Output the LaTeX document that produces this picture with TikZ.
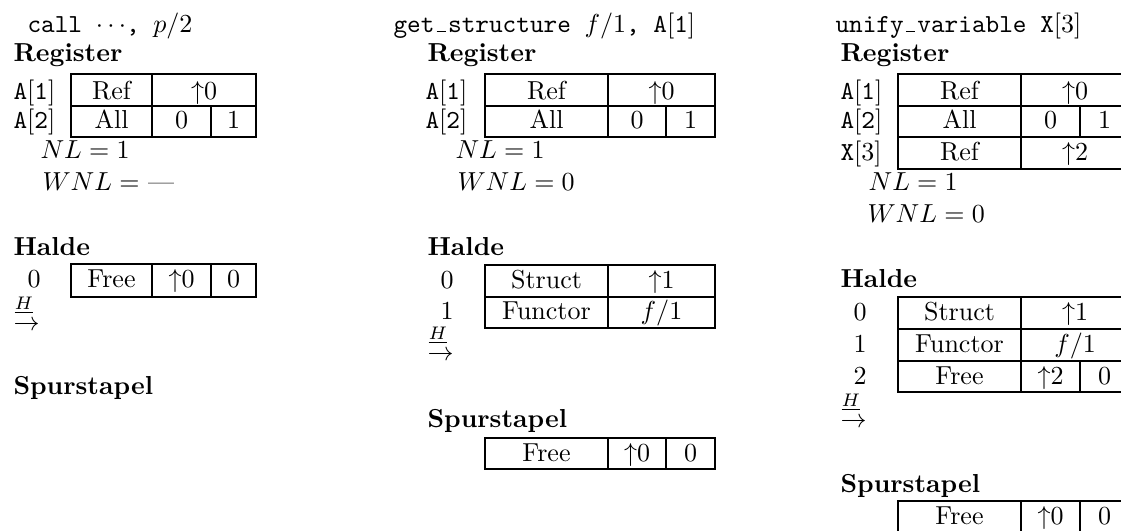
\documentclass[tikz,border=0pt]{standalone}
\newcommand\lowbar{\hbox to 5.25pt{\hss\vbox{\hrule width 3.6pt}\hss}}
\newcommand\reg[2]{\texttt{#1}[\texttt{#2}]}
\newcommand\hptr{\rlap{\hspace{0.4pt}$\scriptstyle\underline{H}$}\raisebox{-8.2pt}{$\rightarrow$}}
\begin{document}
\begin{tikzpicture}[x=0.3846pt,y=-0.3846pt,
  tbl/.style={line width=0.75pt},
  lbl/.style={anchor=base west, inner sep=0pt},
  ctext/.style={anchor=base, inner sep=0pt},
  hmark/.style={anchor=base west, inner sep=0pt},
  head/.style={anchor=base west, inner sep=0pt, font=\bfseries}]
\useasboundingbox (0,0) rectangle (1121,530);
\clip (0,0) rectangle (1121,530);

% ---------------- Column 1 ----------------
\node[lbl] (t1) at (27,32) {\texttt{call $\cdots$, $p/2$}};
\node[head] (r1) at (13,61) {Register};
\node[lbl] (r1a1) at (13,99) {\reg{A}{1}};
\node[lbl] (r1a2) at (13,128) {\reg{A}{2}};
\draw[tbl] (71,74) rectangle (256,137);
\draw[tbl] (71,106) -- (256,106);
\draw[tbl] (152,74) -- (152,137);
\draw[tbl] (211,106) -- (211,137);
\node[ctext] (c1a) at (111.5,99) {Ref};
\node[ctext] (c1b) at (204,99) {$\uparrow$0};
\node[ctext] (c1c) at (111.5,128) {All};
\node[ctext] (c1d) at (181.5,128) {0};
\node[ctext] (c1e) at (233.5,128) {1};
\node[lbl] (nl1) at (40,158) {$NL = 1$};
\node[lbl] (wnl1) at (42,190) {$WNL = $ \textemdash};
\node[head] (h1) at (13,255) {Halde};
\node[ctext] (h1l0) at (34,287) {0};
\draw[tbl] (71,264) rectangle (256,297);
\draw[tbl] (152,264) -- (152,297);
\draw[tbl] (211,264) -- (211,297);
\node[ctext] (h1a) at (111.5,287) {Free};
\node[ctext] (h1b) at (181.5,287) {$\uparrow$0};
\node[ctext] (h1c) at (233.5,287) {0};
\node[hmark] (H1) at (13,309) {\hptr};
\node[head] (s1) at (13,394) {Spurstapel};

% ---------------- Column 2 ----------------
\node[lbl] (t2) at (393,32) {\texttt{get\lowbar structure }$f/1$\texttt{, A}[\texttt{1}]};
\node[head] (r2) at (427,61) {Register};
\node[lbl] (r2a1) at (425,99) {\reg{A}{1}};
\node[lbl] (r2a2) at (425,128) {\reg{A}{2}};
\draw[tbl] (485,74) rectangle (715,137);
\draw[tbl] (485,106) -- (715,106);
\draw[tbl] (608,74) -- (608,137);
\draw[tbl] (666,106) -- (666,137);
\node[ctext] (c2a) at (546.5,99) {Ref};
\node[ctext] (c2b) at (661.5,99) {$\uparrow$0};
\node[ctext] (c2c) at (546.5,128) {All};
\node[ctext] (c2d) at (637,128) {0};
\node[ctext] (c2e) at (690.5,128) {1};
\node[lbl] (nl2) at (455,158) {$NL = 1$};
\node[lbl] (wnl2) at (457,190) {$WNL = 0$};
\node[head] (h2) at (427,255) {Halde};
\node[ctext] (h2l0) at (447,288) {0};
\node[ctext] (h2l1) at (447,319) {1};
\draw[tbl] (485,265) rectangle (715,328);
\draw[tbl] (485,297) -- (715,297);
\draw[tbl] (608,265) -- (608,328);
\node[ctext] (h2a) at (546.5,288) {Struct};
\node[ctext] (h2b) at (661.5,288) {$\uparrow$1};
\node[ctext] (h2c) at (546.5,319) {Functor};
\node[ctext] (h2d) at (661.5,319) {$f/1$};
\node[hmark] (H2) at (427,339) {\hptr};
\node[head] (s2) at (427,427) {Spurstapel};
\draw[tbl] (485,438) rectangle (715,469);
\draw[tbl] (608,438) -- (608,469);
\draw[tbl] (666,438) -- (666,469);
\node[ctext] (s2a) at (546.5,461) {Free};
\node[ctext] (s2b) at (637,461) {$\uparrow$0};
\node[ctext] (s2c) at (690.5,461) {0};

% ---------------- Column 3 ----------------
\node[lbl] (t3) at (835,32) {\texttt{unify\lowbar variable X}[3]};
\node[head] (r3) at (840,61) {Register};
\node[lbl] (r3a1) at (840,99) {\reg{A}{1}};
\node[lbl] (r3a2) at (840,128) {\reg{A}{2}};
\node[lbl] (r3x3) at (840,160) {\texttt{X}[3]};
\draw[tbl] (898,74) rectangle (1129,169);
\draw[tbl] (898,106) -- (1129,106);
\draw[tbl] (898,137) -- (1129,137);
\draw[tbl] (1021,74) -- (1021,169);
\draw[tbl] (1080,106) -- (1080,137);
\node[ctext] (c3a) at (959.5,99) {Ref};
\node[ctext] (c3b) at (1075,99) {$\uparrow$0};
\node[ctext] (c3c) at (959.5,128) {All};
\node[ctext] (c3d) at (1050.5,128) {0};
\node[ctext] (c3e) at (1104.5,128) {1};
\node[ctext] (c3f) at (959.5,160) {Ref};
\node[ctext] (c3g) at (1075,160) {$\uparrow$2};
\node[lbl] (nl3) at (868,190) {$NL = 1$};
\node[lbl] (wnl3) at (867,222) {$WNL = 0$};
\node[head] (h3) at (840,287) {Halde};
\node[ctext] (h3l0) at (860,320) {0};
\node[ctext] (h3l1) at (860,352) {1};
\node[ctext] (h3l2) at (860,384) {2};
\draw[tbl] (898,297) rectangle (1129,392);
\draw[tbl] (898,329) -- (1129,329);
\draw[tbl] (898,361) -- (1129,361);
\draw[tbl] (1021,297) -- (1021,392);
\draw[tbl] (1080,361) -- (1080,392);
\node[ctext] (h3a) at (959.5,320) {Struct};
\node[ctext] (h3b) at (1075,320) {$\uparrow$1};
\node[ctext] (h3c) at (959.5,352) {Functor};
\node[ctext] (h3d) at (1075,352) {$f/1$};
\node[ctext] (h3e) at (959.5,384) {Free};
\node[ctext] (h3f) at (1050.5,384) {$\uparrow$2};
\node[ctext] (h3g) at (1104.5,384) {0};
\node[hmark] (H3) at (840,406) {\hptr};
\node[head] (s3) at (840,492) {Spurstapel};
\draw[tbl] (898,501) rectangle (1129,533);
\draw[tbl] (1021,501) -- (1021,533);
\draw[tbl] (1080,501) -- (1080,533);
\node[ctext] (s3a) at (959.5,524) {Free};
\node[ctext] (s3b) at (1050.5,524) {$\uparrow$0};
\node[ctext] (s3c) at (1104.5,524) {0};
\end{tikzpicture}
\end{document}
